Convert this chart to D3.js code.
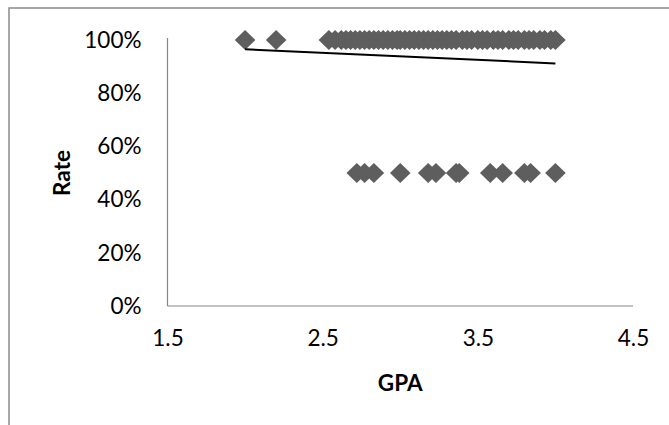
<!DOCTYPE html>
<html>
<head>
<meta charset="utf-8">
<script src="https://cdn.jsdelivr.net/npm/d3@7"></script>
<style>
  html, body { margin: 0; padding: 0; background: #fff; }
  svg { display: block; }
  text { font-family: Lato, "Open Sans", "Liberation Sans", sans-serif; fill: #000; }
</style>
</head>
<body>
<svg id="chart" width="669" height="425"></svg>
<script>
// ---- data ----
const gpaFull = [2.0, 2.2, 2.54, 2.58, 2.62, 2.65, 2.68, 2.71, 2.74, 2.77, 2.8, 2.83, 2.86, 2.89, 2.92, 2.95, 2.98,
  3.0, 3.03, 3.06, 3.09, 3.12, 3.15, 3.18, 3.21, 3.24, 3.27, 3.3, 3.33, 3.36, 3.4, 3.43, 3.46,
  3.5, 3.53, 3.56, 3.6, 3.63, 3.66, 3.7, 3.73, 3.76, 3.8, 3.83, 3.86, 3.9, 3.93, 3.97, 4.0];
const rateFull = gpaFull.map(() => 1.0);
const gpaHalf = [2.72, 2.77, 2.83, 3.0, 3.18, 3.23, 3.36, 3.38, 3.58, 3.66, 3.8, 3.84, 4.0];
const rateHalf = gpaHalf.map(() => 0.5);
const trendGpa = [2.0, 4.0];
const trendRate = [0.965, 0.912];
const xTicks = [1.5, 2.5, 3.5, 4.5];
const yTicks = [0, 0.2, 0.4, 0.6, 0.8, 1.0];
const xTitle = "GPA";
const yTitle = "Rate";

const points = gpaFull.map((g, i) => ({gpa: g, rate: rateFull[i]}))
  .concat(gpaHalf.map((g, i) => ({gpa: g, rate: rateHalf[i]})));
const trend = trendGpa.map((g, i) => ({gpa: g, rate: trendRate[i]}));

// ---- layout ----
const svg = d3.select("#chart");
const mLeft = 167.5, mRight = 633, mTop = 40, mBottom = 306;

const x = d3.scaleLinear().domain([1.5, 4.5]).range([mLeft, mRight]);
const y = d3.scaleLinear().domain([0, 1]).range([mBottom, mTop]);

// outer chart frame (cropped)
svg.append("rect")
  .attr("x", 9).attr("y", 8).attr("width", 720).attr("height", 500)
  .attr("fill", "none").attr("stroke", "#8a8a8a").attr("stroke-width", 1.5);

// axes
const yAxis = d3.axisLeft(y).tickValues(yTicks).tickSize(0).tickPadding(26)
  .tickFormat(d3.format(".0%"));
const gy = svg.append("g").attr("transform", `translate(${mLeft},0)`).call(yAxis);
gy.select(".domain").attr("stroke", "#868686").attr("stroke-width", 1.2)
  .attr("d", `M0,${mTop - 2}V${mBottom}`);
gy.selectAll("text").attr("font-size", "22.5px").attr("font-family", "Lato, 'Open Sans', sans-serif");

const xAxis = d3.axisBottom(x).tickValues(xTicks).tickSize(0).tickPadding(24)
  .tickFormat(d3.format(".1f"));
const gx = svg.append("g").attr("transform", `translate(0,${mBottom})`).call(xAxis);
gx.select(".domain").attr("stroke", "#868686").attr("stroke-width", 1.2)
  .attr("d", `M${mLeft},0H${mRight}`);
gx.selectAll("text").attr("font-size", "22.5px").attr("font-family", "Lato, 'Open Sans', sans-serif");

// axis titles
svg.append("text")
  .attr("x", (mLeft + mRight) / 2).attr("y", 382)
  .attr("text-anchor", "middle").attr("dominant-baseline", "central")
  .attr("font-weight", "bold").attr("font-size", "22.5px")
  .text(xTitle);
svg.append("text")
  .attr("transform", `translate(61,${(mTop + mBottom) / 2}) rotate(-90)`)
  .attr("text-anchor", "middle").attr("dominant-baseline", "central")
  .attr("font-weight", "bold").attr("font-size", "22.5px")
  .text(yTitle);

// markers
svg.append("g").selectAll("path").data(points).join("path")
  .attr("transform", d => `translate(${x(d.gpa)},${y(d.rate)})`)
  .attr("d", "M0,-10L10.3,0L0,10L-10.3,0Z")
  .attr("fill", "#5e5e5e");

// trendline
svg.append("path").datum(trend)
  .attr("d", d3.line().x(d => x(d.gpa)).y(d => y(d.rate)))
  .attr("fill", "none").attr("stroke", "#000").attr("stroke-width", 2);
</script>
</body>
</html>
